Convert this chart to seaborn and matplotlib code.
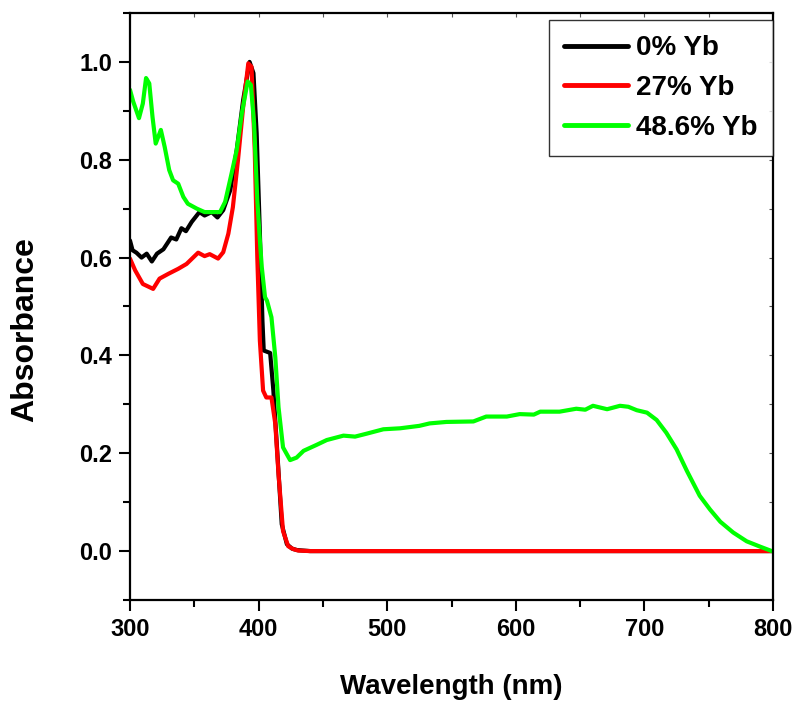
"""UV-vis absorbance spectra for Yb-doped samples."""

import matplotlib
matplotlib.use("Agg")
import matplotlib.pyplot as plt
from matplotlib.ticker import MultipleLocator
import pandas as pd
import seaborn as sns

# 0% Yb
wl_0 = [300, 302, 305, 309, 313, 317, 321, 326, 332, 336, 340, 343.5, 348, 354, 358,
        363.5, 368, 372.5, 378, 383, 388, 393, 396, 398.5, 401, 403, 404, 409, 411.5,
        414, 418, 422, 426, 430, 440, 500, 600, 700, 800]
abs_0 = [0.635, 0.615, 0.61, 0.60, 0.608, 0.592, 0.608, 0.617, 0.641, 0.637, 0.66, 0.654,
         0.673, 0.693, 0.686, 0.693, 0.682, 0.697, 0.738, 0.82, 0.922, 1.0, 0.977, 0.854,
         0.65, 0.47, 0.41, 0.405, 0.328, 0.225, 0.055, 0.014, 0.005, 0.002, 0.0, 0.0,
         0.0, 0.0, 0.0]

# 27% Yb
wl_27 = [300, 304, 310, 318, 323, 330, 337.5, 344, 353, 358, 362, 368.5, 372.5, 376.5,
         380, 384, 388, 392, 394.5, 397, 399, 401, 403.5, 406, 410, 413, 415.5, 419, 423,
         427, 431, 440, 500, 600, 700, 800]
abs_27 = [0.598, 0.574, 0.546, 0.536, 0.557, 0.567, 0.577, 0.587, 0.61, 0.603, 0.607,
          0.598, 0.611, 0.649, 0.703, 0.80, 0.908, 0.997, 0.99, 0.82, 0.60, 0.43, 0.328,
          0.314, 0.314, 0.26, 0.157, 0.041, 0.01, 0.004, 0.001, 0.0, 0.0, 0.0, 0.0, 0.0]

# 48.6% Yb
wl_486 = [300, 302.5, 307, 310, 312.5, 315, 317.5, 320, 324, 327, 330.5, 333.5, 337.5,
          341.5, 345, 352, 358, 365, 370, 374, 379, 383, 387, 391.5, 394, 396.5, 399,
          401, 402.5, 405, 406.5, 410, 413, 415.5, 419, 424.5, 429.5, 435, 445, 453, 466,
          475, 484, 497, 510, 525, 533, 546, 567, 577, 593, 603, 614, 619, 634, 647, 654,
          660, 671, 681, 687.5, 694, 702, 709.5, 717, 725, 733, 743, 751, 759, 769,
          779.5, 790, 799]
abs_486 = [0.943, 0.919, 0.885, 0.915, 0.967, 0.956, 0.888, 0.833, 0.861, 0.826, 0.779,
           0.758, 0.751, 0.724, 0.71, 0.70, 0.693, 0.693, 0.693, 0.714, 0.772, 0.82,
           0.895, 0.96, 0.953, 0.874, 0.717, 0.635, 0.58, 0.519, 0.512, 0.478, 0.396,
           0.294, 0.212, 0.186, 0.191, 0.205, 0.217, 0.227, 0.236, 0.234, 0.24, 0.249,
           0.251, 0.256, 0.261, 0.264, 0.265, 0.275, 0.275, 0.28, 0.279, 0.285, 0.285,
           0.291, 0.289, 0.297, 0.29, 0.297, 0.295, 0.288, 0.283, 0.268, 0.242, 0.208,
           0.164, 0.113, 0.085, 0.06, 0.038, 0.02, 0.009, 0.0]

labels = ["0% Yb", "27% Yb", "48.6% Yb"]
colors = ["#000000", "#ff0000", "#00ff00"]

sns.set_theme(style="ticks")
plt.rcParams["font.family"] = ["Liberation Sans", "DejaVu Sans"]
plt.rcParams["font.weight"] = "bold"
for key in ["text.color", "axes.labelcolor", "xtick.color", "ytick.color"]:
    plt.rcParams[key] = "black"

df = pd.concat([
    pd.DataFrame({"wl": wl_0, "abs": abs_0, "sample": labels[0]}),
    pd.DataFrame({"wl": wl_27, "abs": abs_27, "sample": labels[1]}),
    pd.DataFrame({"wl": wl_486, "abs": abs_486, "sample": labels[2]}),
], ignore_index=True)

fig = plt.figure(figsize=(7.94, 7.02), dpi=100)
ax = fig.add_axes([0.1637, 0.1453, 0.8099, 0.8362])

sns.lineplot(data=df, x="wl", y="abs", hue="sample", hue_order=labels,
             palette=dict(zip(labels, colors)), estimator=None, sort=False,
             linewidth=3.0, ax=ax)

ax.set_xlim(300, 800)
ax.set_ylim(-0.1, 1.1)
ax.xaxis.set_major_locator(MultipleLocator(100))
ax.xaxis.set_minor_locator(MultipleLocator(50))
ax.yaxis.set_major_locator(MultipleLocator(0.2))
ax.yaxis.set_minor_locator(MultipleLocator(0.1))
ax.yaxis.set_major_formatter(plt.FuncFormatter(lambda v, p: f"{v:.1f}"))

for sp in ax.spines.values():
    sp.set_linewidth(1.6)
    sp.set_color("black")
ax.tick_params(which="major", direction="out", length=8, width=1.5,
               labelsize=17, pad=5, colors="black")
ax.tick_params(which="minor", direction="out", length=5, width=1.5)
for lab in ax.get_xticklabels() + ax.get_yticklabels():
    lab.set_fontweight("bold")

# short inward ticks on the top and right spines
top = ax.secondary_xaxis("top")
top.xaxis.set_major_locator(MultipleLocator(50))
top.tick_params(direction="in", length=3, width=0.8, labeltop=False, colors="#555555")
top.spines["top"].set_visible(False)
right = ax.secondary_yaxis("right")
right.yaxis.set_major_locator(MultipleLocator(0.1))
right.tick_params(direction="in", length=3, width=0.8, labelright=False, colors="#555555")
right.spines["right"].set_visible(False)

ax.set_xlabel("Wavelength (nm)", fontsize=20, fontweight="bold", labelpad=24)
ax.set_ylabel("Absorbance", fontsize=23, fontweight="bold")
ax.yaxis.set_label_coords(-0.14, 0.46)

leg = ax.legend(loc="upper right", bbox_to_anchor=(1.0, 0.988), fontsize=20,
                frameon=True, fancybox=False, borderaxespad=0, handlelength=2.3,
                handletextpad=0.3, labelspacing=0.5, borderpad=0.55)
leg.get_frame().set_edgecolor("black")
leg.get_frame().set_linewidth(1.0)
for t in leg.get_texts():
    t.set_fontweight("bold")
for h in leg.get_lines():
    h.set_linewidth(3.5)

fig.savefig("out.png", dpi=100)
plt.close(fig)
